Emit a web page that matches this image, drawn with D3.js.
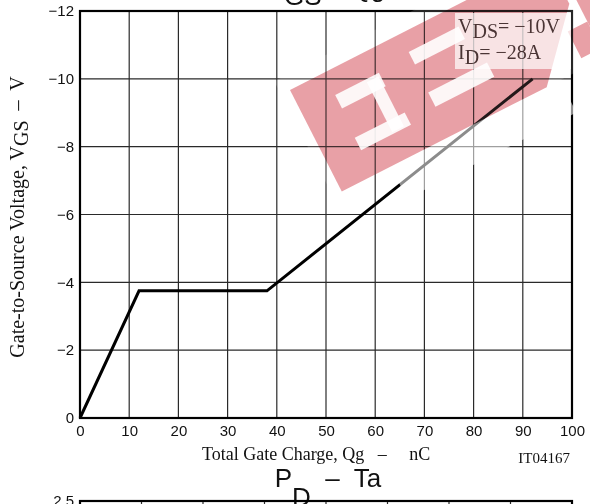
<!DOCTYPE html>
<html>
<head>
<meta charset="utf-8">
<script src="https://cdn.jsdelivr.net/npm/d3@7"></script>
<style>
  html, body { margin: 0; padding: 0; background: #fff; }
  svg { display: block; }
  text { white-space: pre; }
</style>
</head>
<body>
<div id="chart"></div>
<script>
// values
const qgValues = [0, 12, 38, 92];          // total gate charge, nC
const vgsValues = [0, -3.75, -3.75, -10];  // gate-to-source voltage, V
const qgTicks = [0, 10, 20, 30, 40, 50, 60, 70, 80, 90, 100];
const vgsTicks = [0, -2, -4, -6, -8, -10, -12];
// second chart (only its top edge shows)
const taTicks = [0, 20, 40, 60, 80, 100, 120, 140, 160];
const pdTicks = [0, 0.5, 1, 1.5, 2, 2.5];

const sans = "'Liberation Sans', Arial, Helvetica, sans-serif";
const serif = "'Liberation Serif', 'Times New Roman', Times, serif";

const margin = { top: 11, right: 18, bottom: 86, left: 80 },
  width = 590 - margin.left - margin.right,
  height = 504 - margin.top - margin.bottom;

const svg = d3.select('#chart')
  .append('svg')
  .attr('width', 590)
  .attr('height', 504);

// scales
const x = d3.scaleLinear().domain([0, 100]).range([margin.left, margin.left + width]);
const y = d3.scaleLinear().domain([0, -12]).range([margin.top + height, margin.top]);

// grid
const grid = svg.append('g');
grid.selectAll('line.v')
  .data(qgTicks.slice(1, -1))
  .join('line')
  .attr('x1', d => x(d)).attr('x2', d => x(d))
  .attr('y1', y(0)).attr('y2', y(-12))
  .attr('stroke', '#2a2a2a').attr('stroke-width', 1.2);
grid.selectAll('line.h')
  .data(vgsTicks.slice(1, -1))
  .join('line')
  .attr('x1', x(0)).attr('x2', x(100))
  .attr('y1', d => y(d)).attr('y2', d => y(d))
  .attr('stroke', '#2a2a2a').attr('stroke-width', 1.2);

// frame
svg.append('rect')
  .attr('x', x(0)).attr('y', y(-12))
  .attr('width', x(100) - x(0)).attr('height', y(0) - y(-12))
  .attr('fill', 'none').attr('stroke', '#000').attr('stroke-width', 2.2);

// axes (labels only)
const xAxis = svg.append('g')
  .attr('transform', `translate(0,${y(0)})`)
  .call(d3.axisBottom(x).tickValues(qgTicks).tickSize(0).tickPadding(7));
const yAxis = svg.append('g')
  .attr('transform', `translate(${x(0)},0)`)
  .call(d3.axisLeft(y).tickValues(vgsTicks).tickSize(0).tickPadding(6));
[xAxis, yAxis].forEach(a => {
  a.select('.domain').remove();
  a.attr('font-family', sans).attr('font-size', 15);
  a.selectAll('text').attr('fill', '#111');
});

// curve
const line = d3.line().x(d => x(d[0])).y(d => y(d[1]));
svg.append('path')
  .datum(qgValues.map((q, i) => [q, vgsValues[i]]))
  .attr('d', line)
  .attr('fill', 'none')
  .attr('stroke', '#000')
  .attr('stroke-width', 3)
  .attr('stroke-linejoin', 'miter');

// watermark overlay (drawn in a rotated frame)
const wm = svg.append('g').attr('transform', 'translate(290,90) rotate(-27)');
wm.append('rect').attr('x', -10).attr('y', -15).attr('width', 420).attr('height', 129)
  .attr('fill', '#fff').attr('opacity', 0.15);
wm.append('rect').attr('x', 55).attr('y', 114).attr('width', 190).attr('height', 36)
  .attr('fill', '#fff').attr('opacity', 0.55);
const pink = wm.append('g').style('mix-blend-mode', 'multiply');
pink.append('polygon').attr('points', '0,0 288,0 288,50 230,114 0,114')
  .attr('fill', '#e8a0a6');
pink.append('rect').attr('x', 296).attr('y', 0).attr('width', 110).attr('height', 114)
  .attr('fill', '#e8a0a6');
pink.append('rect').attr('x', 274).attr('y', 74).attr('width', 22).attr('height', 30)
  .attr('fill', '#e8a0a6');
const cuts = [[38, 25, 49, 15], [72, 28, 13, 56], [36, 72, 56, 14], [123, 20, 56, 14], [122, 65, 66, 16]];
wm.selectAll('rect.cut')
  .data(cuts)
  .join('rect')
  .attr('x', d => d[0]).attr('y', d => d[1])
  .attr('width', d => d[2]).attr('height', d => d[3])
  .attr('fill', '#fff').attr('opacity', 0.9);

// condition box
svg.append('rect')
  .attr('x', 455).attr('y', 13).attr('width', 116).attr('height', 56)
  .attr('fill', '#fff').attr('opacity', 0.7);
const cond = svg.append('g')
  .attr('font-family', serif).attr('font-size', 20).attr('fill', '#4a3434');
cond.append('text').attr('x', 458).attr('y', 33)
  .call(t => {
    t.append('tspan').text('V');
    t.append('tspan').attr('dy', 5).text('DS');
    t.append('tspan').attr('dy', -5).text('= \u221210V');
  });
cond.append('text').attr('x', 458).attr('y', 59)
  .call(t => {
    t.append('tspan').text('I');
    t.append('tspan').attr('dy', 5).text('D');
    t.append('tspan').attr('dy', -5).text('= \u221228A');
  });

// axis titles
svg.append('text')
  .attr('x', 202).attr('y', 460)
  .attr('font-family', serif).attr('font-size', 18).attr('fill', '#111')
  .text('Total Gate Charge, Qg   \u2013     nC');
svg.append('text')
  .attr('x', 570).attr('y', 463)
  .attr('text-anchor', 'end')
  .attr('font-family', serif).attr('font-size', 15).attr('fill', '#111')
  .text('IT04167');
svg.append('text')
  .attr('transform', 'translate(24,217) rotate(-90)')
  .attr('text-anchor', 'middle')
  .attr('font-family', serif).attr('font-size', 20).attr('fill', '#111')
  .call(t => {
    t.append('tspan').text('Gate-to-Source Voltage, V');
    t.append('tspan').attr('dy', 4).text('GS');
    t.append('tspan').attr('dy', -4).text('  \u2013  V');
  });

// chart titles
svg.append('text')
  .attr('x', 326).attr('y', -3)
  .attr('text-anchor', 'middle')
  .attr('font-family', sans).attr('font-size', 26).attr('fill', '#111')
  .call(t => {
    t.append('tspan').text('V');
    t.append('tspan').attr('dy', 8).text('GS');
    t.append('tspan').attr('dy', -8).text(' \u2013 Qg');
  });
svg.append('text')
  .attr('x', 328).attr('y', 487)
  .attr('text-anchor', 'middle')
  .attr('font-family', sans).attr('font-size', 26).attr('fill', '#111')
  .call(t => {
    t.append('tspan').text('P');
    t.append('tspan').attr('dy', 19).text('D');
    t.append('tspan').attr('dy', -19).text('  \u2013  Ta');
  });

// second chart: P_D - Ta (top edge only inside the picture)
const x2 = d3.scaleLinear().domain([0, 160]).range([margin.left, margin.left + width]);
const y2 = d3.scaleLinear().domain([0, 2.5]).range([831, 501]);
svg.append('g').selectAll('line')
  .data(taTicks.slice(1, -1))
  .join('line')
  .attr('x1', d => x2(d)).attr('x2', d => x2(d))
  .attr('y1', y2(0)).attr('y2', y2(2.5))
  .attr('stroke', '#2a2a2a').attr('stroke-width', 1.2);
svg.append('rect')
  .attr('x', x2(0)).attr('y', y2(2.5))
  .attr('width', x2(160) - x2(0)).attr('height', y2(0) - y2(2.5))
  .attr('fill', 'none').attr('stroke', '#000').attr('stroke-width', 2.2);
const yAxis2 = svg.append('g')
  .attr('transform', `translate(${x2(0)},0)`)
  .call(d3.axisLeft(y2).tickValues(pdTicks).tickFormat(d3.format('.1f')).tickSize(0).tickPadding(6));
yAxis2.select('.domain').remove();
yAxis2.attr('font-family', sans).attr('font-size', 15);
yAxis2.selectAll('text').attr('fill', '#111');
</script>
</body>
</html>
